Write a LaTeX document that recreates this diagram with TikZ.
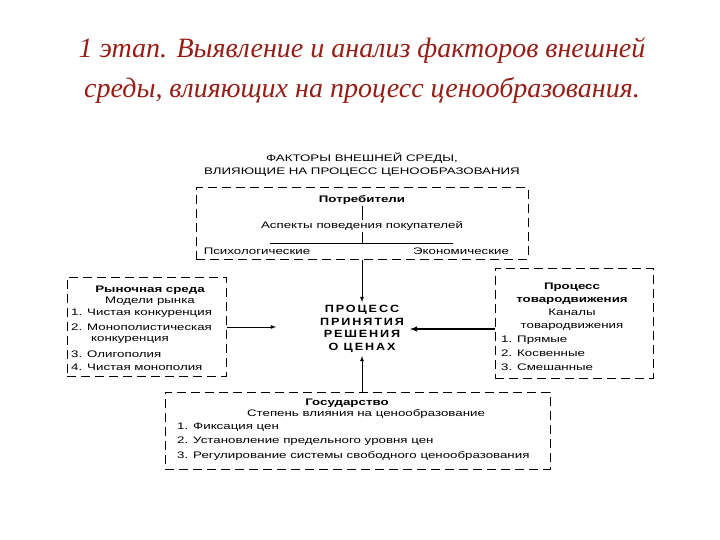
\documentclass[tikz,border=0pt]{standalone}
\usepackage{fontspec}
\setmainfont{Liberation Serif}
\newfontfamily\diagfont[FakeStretch=1.4]{Liberation Sans}
\newfontfamily\procfont[FakeStretch=1.2,LetterSpace=18]{Liberation Sans}
\definecolor{titlered}{RGB}{150,30,22}

\begin{document}
\begin{tikzpicture}[
    x=1pt, y=-1pt,
    dbox/.style={draw, dash pattern=on 9pt off 5pt, line width=1pt, inner sep=0pt},
    txt/.style={font=\diagfont\fontsize{9.5}{13}\selectfont, inner sep=1pt},
    headtxt/.style={font=\diagfont\bfseries\fontsize{9.5}{13}\selectfont, inner sep=1pt},
    item/.style={txt, anchor=west},
    arr/.style={-latex, line width=0.8pt}
]
    \useasboundingbox (0,0) rectangle (720,540);
    \node[font=\fontsize{28}{40}\selectfont\itshape, text=titlered, align=center] (title) at (362,71) {1 этап. Выявление и анализ факторов внешней\\среды, влияющих на процесс ценообразования.};
    \node[txt, align=center] (factors) at (362,165) {ФАКТОРЫ ВНЕШНЕЙ СРЕДЫ,\\ВЛИЯЮЩИЕ НА ПРОЦЕСС ЦЕНООБРАЗОВАНИЯ};

    % consumers
    \node[dbox, minimum width=332pt, minimum height=71pt] (consumers) at (362,223.5) {};
    \node[headtxt] (cons) at (362,200) {Потребители};
    \node[txt] (aspects) at (362,226) {Аспекты поведения покупателей};
    \node[txt] (psych) at (257,251) {Психологические};
    \node[txt] (econ) at (461,251) {Экономические};
    \coordinate (forkL) at (270,243);
    \coordinate (forkR) at (453,243);
    \draw[thin] (cons.south) -- (aspects.north);
    \draw (forkL) -- (forkR);
    \draw (aspects.south) -- (aspects.south |- forkL);

    % decision
    \node[font=\procfont\bfseries\fontsize{10.5}{12.7}\selectfont, align=center, inner xsep=6pt, inner ysep=3pt] (process) at (362,329) {ПРОЦЕСС\\ПРИНЯТИЯ\\РЕШЕНИЯ\\О ЦЕНАХ};

    % market
    \node[dbox, minimum width=159pt, minimum height=99pt] (market) at (146.5,326.5) {};
    \node[headtxt] (marketname) at (150,290) {Рыночная среда};
    \node[txt] (models) at (150,301) {Модели рынка};
    \node[item] (m1) at (70,313) {1. Чистая конкуренция};
    \node[item] (m2) at (70,327) {2. Монополистическая};
    \node[item] (m2b) at (90,340) {конкуренция};
    \node[item] (m3) at (70,354) {3. Олигополия};
    \node[item] (m4) at (70,367) {4. Чистая монополия};

    % distribution
    \node[dbox, minimum width=158pt, minimum height=110pt] (channels) at (574,323) {};
    \node[headtxt, align=center] (distrib) at (572,294) {Процесс\\товародвижения};
    \node[txt, align=center] (chan) at (572,320) {Каналы\\товародвижения};
    \node[item] (c1) at (500,340) {1. Прямые};
    \node[item] (c2) at (500,353) {2. Косвенные};
    \node[item] (c3) at (500,367) {3. Смешанные};

    % state
    \node[dbox, minimum width=385pt, minimum height=77pt] (govbox) at (357.5,430.5) {};
    \node[headtxt] (gov) at (347,403) {Государство};
    \node[txt] (degree) at (366,414) {Степень влияния на ценообразование};
    \node[item] (g1) at (176,427) {1. Фиксация цен};
    \node[item] (g2) at (176,441) {2. Установление предельного уровня цен};
    \node[item] (g3) at (176,456) {3. Регулирование системы свободного ценообразования};

    \coordinate (inL) at (276,327);
    \draw[arr] (consumers.south) -- (process.north);
    \draw[arr] (market.east |- inL) -- (inL);
    \draw[arr, line width=1.4pt] (channels.west |- process.east) -- (process.east);
    \draw[arr] (govbox.north -| process.south) -- (process.south);
\end{tikzpicture}
\end{document}
